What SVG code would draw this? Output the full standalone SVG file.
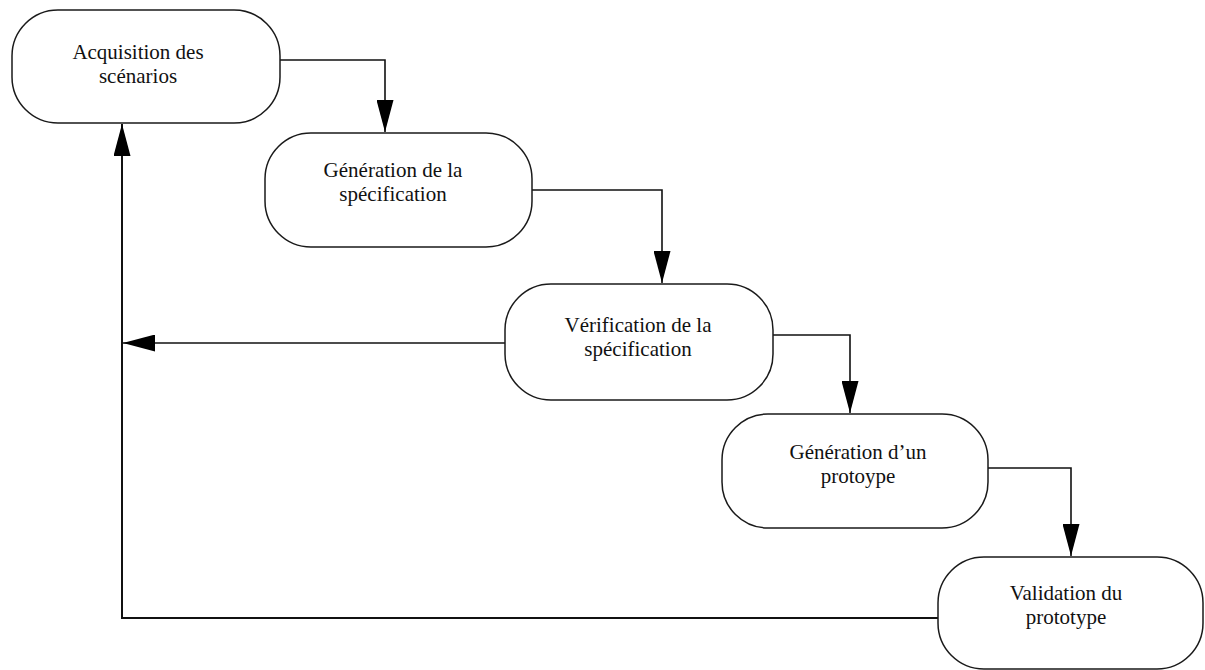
<svg xmlns="http://www.w3.org/2000/svg" width="1205" height="670" viewBox="0 0 1205 670">
  <style>
    .box { fill: #ffffff; stroke: #1a1a1a; stroke-width: 1.5; }
    .lbl { font-family: "Liberation Serif", "Times New Roman", serif; font-size: 21px; fill: #111111; text-anchor: middle; }
    .wire { fill: none; stroke: #111111; stroke-width: 1.6; }
  </style>
  <defs>
    <marker id="head" viewBox="0 0 32 17" refX="32" refY="8.5" markerWidth="32" markerHeight="17" markerUnits="userSpaceOnUse" orient="auto">
      <path d="M0,0 L32,8.5 L0,17 Z" fill="#000000"/>
    </marker>
  </defs>
  <rect width="1205" height="670" fill="#ffffff"/>

  <g id="connectors">
    <path class="wire" d="M280,60 H385 V132" marker-end="url(#head)"/>
    <path class="wire" d="M532,190 H662 V283" marker-end="url(#head)"/>
    <path class="wire" d="M773,335 H850 V413" marker-end="url(#head)"/>
    <path class="wire" d="M988,468 H1071 V556" marker-end="url(#head)"/>
    <path class="wire" d="M505,343 H123" marker-end="url(#head)"/>
    <path class="wire" d="M938,618 H122 V124" marker-end="url(#head)" style="stroke-width:2"/>
  </g>

  <g id="acquisition">
    <rect class="box" x="12" y="10" width="268" height="113" rx="46" ry="46"/>
    <text class="lbl" x="138" y="59">Acquisition des</text>
    <text class="lbl" x="138" y="83">scénarios</text>
  </g>

  <g id="generation-spec">
    <rect class="box" x="265" y="133" width="267" height="114" rx="46" ry="46"/>
    <text class="lbl" x="393" y="177">Génération de la</text>
    <text class="lbl" x="393" y="201">spécification</text>
  </g>

  <g id="verification-spec">
    <rect class="box" x="505" y="284" width="268" height="116" rx="46" ry="46"/>
    <text class="lbl" x="638" y="332">Vérification de la</text>
    <text class="lbl" x="638" y="356">spécification</text>
  </g>

  <g id="generation-proto">
    <rect class="box" x="722" y="414" width="266" height="114" rx="46" ry="46"/>
    <text class="lbl" x="858" y="459">Génération d’un</text>
    <text class="lbl" x="858" y="483">protoype</text>
  </g>

  <g id="validation-proto">
    <rect class="box" x="938" y="557" width="265" height="112" rx="46" ry="46"/>
    <text class="lbl" x="1066" y="600">Validation du</text>
    <text class="lbl" x="1066" y="624">prototype</text>
  </g>
</svg>
